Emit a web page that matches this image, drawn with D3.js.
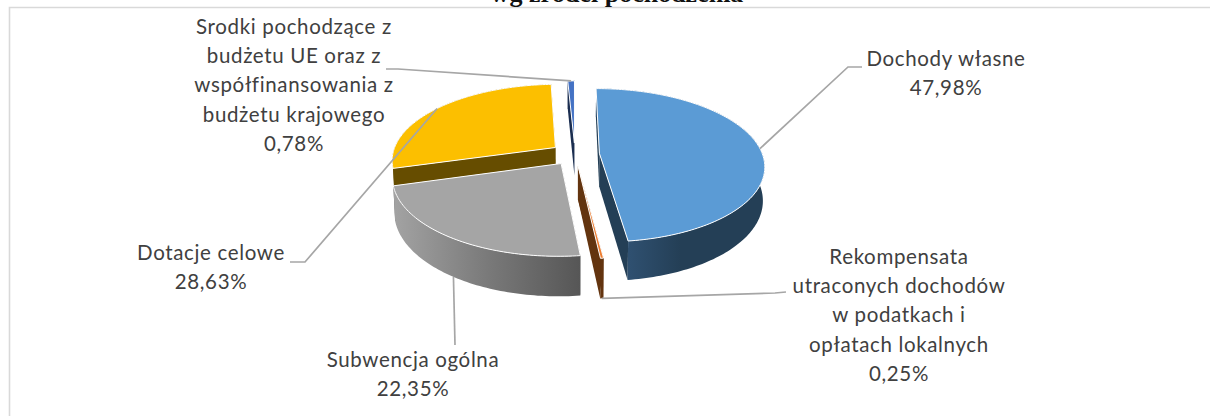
<!DOCTYPE html>
<html>
<head>
<meta charset="utf-8">
<script src="https://cdn.jsdelivr.net/npm/d3@7"></script>
<style>
    html, body { margin: 0; padding: 0; background: #fff; overflow: hidden; }
    svg { display: block; }
    .label { font-family: Lato, "Open Sans", sans-serif; font-size: 20.5px; letter-spacing: 0.65px; fill: #404040; text-anchor: middle; }
    .chart-title { font-family: "Liberation Serif", serif; font-weight: bold; font-size: 26px; fill: #111; text-anchor: middle; }
</style>
</head>
<body>
<svg width="1210" height="416"></svg>
<script>
const categories = [
    'Dochody własne',
    'Rekompensata utraconych dochodów w podatkach i opłatach lokalnych',
    'Subwencja ogólna',
    'Dotacje celowe',
    'Srodki pochodzące z budżetu UE oraz z współfinansowania z budżetu krajowego'
];
const values = [47.98, 0.25, 22.35, 28.63, 0.78];
const valueLabels = ['47,98%', '0,25%', '22,35%', '28,63%', '0,78%'];
const labelLines = [
    ['Dochody własne'],
    ['Rekompensata', 'utraconych dochodów', 'w podatkach i', 'opłatach lokalnych'],
    ['Subwencja ogólna'],
    ['Dotacje celowe'],
    ['Srodki pochodzące z', 'budżetu UE oraz z', 'współfinansowania z', 'budżetu krajowego']
];
const chartTitle = 'wg źródeł pochodzenia';

const topColors = ['#5b9bd5', '#ed7d31', '#a5a5a5', '#fcbf00', '#4472c4'];
const wallColors = ['#243f56', '#63340f', '#636363', '#664d00', '#1b2e50'];

// where each label sits, and the elbow of its leader line
const labelLayout = [
    { x: 946, y: 66, elbow: [[848, 67], [862, 67]], onBottom: false },
    { x: 899, y: 264, elbow: [[775, 293], [786, 292]], onBottom: true },
    { x: 413, y: 367, elbow: [[455, 345]], onBottom: true },
    { x: 211, y: 260, elbow: [[305, 262], [290, 262]], onBottom: false },
    { x: 294, y: 34, elbow: [[398, 69], [386, 69]], onBottom: false }
];

const svg = d3.select('svg');
const width = +svg.attr('width');
const height = +svg.attr('height');

const radiusX = 163;
const radiusY = 75;
const centerX = 575;
const centerY = 154;
const explode = 0.15;
const perspective = 0.156;
const depth = 33;
const lineHeight = 29.2;

const xScale = d3.scaleLinear().domain([-1, 1]).range([centerX - radiusX, centerX + radiusX]);
const yScale = d3.scaleLinear().domain([-1, 1]).range([centerY - radiusY, centerY + radiusY]);

const slices = d3.pie().sort(null).value(d => d)(values);

// slice point on the pie plane -> screen, angle is clockwise from the back of the pie
const project = (slice, angle, r, bottom) => {
    const mid = (slice.startAngle + slice.endAngle) / 2;
    const px = explode * Math.sin(mid) + r * Math.sin(angle);
    const pz = -explode * Math.cos(mid) - r * Math.cos(angle);
    const w = 1 / (1 - perspective * pz);
    const shrink = bottom ? 0.99 : 1;
    return [
        xScale(px * w * shrink),
        yScale(pz * w) + (bottom ? depth * w : 0)
    ];
};

const rim = (slice, bottom) => {
    const steps = Math.max(2, Math.ceil((slice.endAngle - slice.startAngle) / 0.02));
    return d3.range(steps + 1).map(i => {
        const a = slice.startAngle + (slice.endAngle - slice.startAngle) * i / steps;
        return project(slice, a, 1, bottom);
    });
};

const line = d3.line();
const closed = pts => line(pts) + 'Z';

// frame, only top and left show inside the picture
svg.append('path')
    .attr('d', `M${width},7.5H9.5V${height}`)
    .attr('fill', 'none')
    .attr('stroke', '#d9d9d9')
    .attr('stroke-width', 1.6);

svg.append('text')
    .classed('chart-title', true)
    .attr('x', 617)
    .attr('y', 2)
    .text(chartTitle);

const defs = svg.append('defs');
const addGradient = (id, stops) => {
    const grad = defs.append('linearGradient').attr('id', id);
    stops.forEach(s => grad.append('stop').attr('offset', s[0]).attr('stop-color', s[1]));
};
addGradient('wall-blue', [[0.2, '#2f5070'], [0.5, '#243f56'], [1, '#243f56']]);
addGradient('wall-gray', [[0, '#a3a3a3'], [0.5, '#7a7a7a'], [1, '#565656']]);

const wallFill = i => i === 0 ? 'url(#wall-blue)' : i === 2 ? 'url(#wall-gray)' : wallColors[i];

// back to front
const drawOrder = [4, 3, 2, 1, 0];
const g = svg.append('g');

drawOrder.forEach(i => {
    const s = slices[i];
    const mid = (s.startAngle + s.endAngle) / 2;
    const apexTop = project(s, mid, 0, false);
    const apexBottom = project(s, mid, 0, true);
    const topRim = rim(s, false);
    const bottomRim = rim(s, true);

    [[topRim[0], bottomRim[0]], [topRim[topRim.length - 1], bottomRim[bottomRim.length - 1]]].forEach(e => {
        g.append('path')
            .attr('d', closed([apexTop, e[0], e[1], apexBottom]))
            .attr('fill', wallColors[i]);
    });

    g.append('path')
        .attr('d', closed(topRim.concat(bottomRim.slice().reverse())))
        .attr('fill', wallFill(i));

    g.append('path')
        .attr('d', closed([apexTop].concat(topRim)))
        .attr('fill', topColors[i])
        .attr('stroke', '#fff')
        .attr('stroke-width', 1)
        .attr('stroke-linejoin', 'round');
});

// leader lines start on the rim at the middle of the slice
slices.forEach((s, i) => {
    const mid = (s.startAngle + s.endAngle) / 2;
    const start = project(s, mid, 1, labelLayout[i].onBottom);
    svg.append('path')
        .attr('d', line([start].concat(labelLayout[i].elbow)))
        .attr('fill', 'none')
        .attr('stroke', '#a6a6a6')
        .attr('stroke-width', 1.7);
});

categories.forEach((c, i) => {
    const text = svg.append('text')
        .classed('label', true)
        .attr('data-category', c);
    labelLines[i].concat(valueLabels[i]).forEach((t, n) => {
        text.append('tspan')
            .attr('x', labelLayout[i].x)
            .attr('y', labelLayout[i].y + n * lineHeight)
            .text(t);
    });
});
</script>
</body>
</html>
